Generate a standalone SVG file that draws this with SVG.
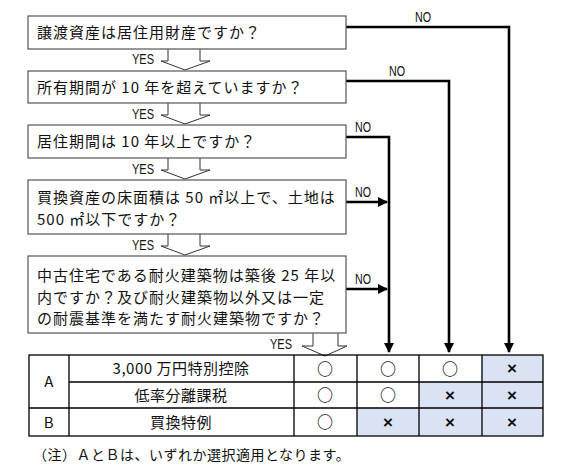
<svg xmlns="http://www.w3.org/2000/svg" width="569" height="467" viewBox="0 0 569 467">
<style>
.box{fill:#fff;stroke:#555;stroke-width:1.2}
.q{font-family:"Noto Sans CJK JP","Liberation Sans",sans-serif;font-size:15px;letter-spacing:1px;fill:#111}
.lbl{font-family:"Liberation Sans","DejaVu Sans",sans-serif;font-size:15px;fill:#111}
.yes{fill:#fff;stroke:#333;stroke-width:1}
.no{fill:none;stroke:#000;stroke-width:2.6}
.t{font-family:"Noto Sans CJK JP","Liberation Sans",sans-serif;font-size:15px;fill:#111;text-anchor:middle;letter-spacing:0.5px}
.c{font-family:"Noto Sans CJK JP","Liberation Sans",sans-serif;font-size:16px;fill:#111;text-anchor:middle;font-weight:bold}
.x{font-family:"Liberation Sans","DejaVu Sans",sans-serif;font-size:17px;fill:#111;text-anchor:middle;font-weight:bold}
.grid{fill:none;stroke:#000;stroke-width:1.3}
.sh{fill:#dae3f3}
</style>
<defs>
<marker id="ah" viewBox="0 0 10 10" refX="9" refY="5" markerWidth="4" markerHeight="4" orient="auto" markerUnits="strokeWidth">
<path d="M0,0 L10,5 L0,10 z" fill="#000"/>
</marker>
</defs>
<g id="connectors">
<path class="yes" d="M168,49 V61 H161 L185,70 L210,61 H200 V49"/>
<path class="yes" d="M168,103 V115 H161 L185,124 L210,115 H200 V103"/>
<path class="yes" d="M168,158 V170 H161 L185,179 L210,170 H200 V158"/>
<path class="yes" d="M168,234 V246 H161 L185,255 L210,246 H200 V234"/>
<path class="yes" d="M313,333 V346 H302 L325,356 L347,346 H338 V333"/>
<text class="lbl" x="132" y="64" textLength="22" lengthAdjust="spacingAndGlyphs">YES</text>
<text class="lbl" x="132" y="119" textLength="22" lengthAdjust="spacingAndGlyphs">YES</text>
<text class="lbl" x="132" y="174" textLength="22" lengthAdjust="spacingAndGlyphs">YES</text>
<text class="lbl" x="132" y="250" textLength="22" lengthAdjust="spacingAndGlyphs">YES</text>
<text class="lbl" x="270" y="349" textLength="22" lengthAdjust="spacingAndGlyphs">YES</text>
<path class="no" d="M346,27 H509 V352" marker-end="url(#ah)"/>
<path class="no" d="M346,81 H449 V352" marker-end="url(#ah)"/>
<path class="no" d="M346,137 H389 V352" marker-end="url(#ah)"/>
<path class="no" d="M346,202 H387" marker-end="url(#ah)"/>
<path class="no" d="M346,289 H387" marker-end="url(#ah)"/>
<text class="lbl" x="415" y="22" textLength="16" lengthAdjust="spacingAndGlyphs">NO</text>
<text class="lbl" x="389" y="76" textLength="16" lengthAdjust="spacingAndGlyphs">NO</text>
<text class="lbl" x="355" y="132" textLength="16" lengthAdjust="spacingAndGlyphs">NO</text>
<text class="lbl" x="355" y="197" textLength="16" lengthAdjust="spacingAndGlyphs">NO</text>
<text class="lbl" x="355" y="284" textLength="16" lengthAdjust="spacingAndGlyphs">NO</text>
</g>
<g id="q1"><rect class="box" x="28" y="16" width="318" height="33"/><text class="q" x="37" y="38">譲渡資産は居住用財産ですか？</text></g>
<g id="q2"><rect class="box" x="28" y="71" width="318" height="32"/><text class="q" x="37" y="92.5">所有期間が 10 年を超えていますか？</text></g>
<g id="q3"><rect class="box" x="28" y="125" width="318" height="33"/><text class="q" x="37" y="147">居住期間は 10 年以上ですか？</text></g>
<g id="q4"><rect class="box" x="28" y="180" width="318" height="54"/><text class="q" x="37" y="203">買換資産の床面積は 50 ㎡以上で、土地は</text><text class="q" x="37" y="225">500 ㎡以下ですか？</text></g>
<g id="q5"><rect class="box" x="28" y="256" width="318" height="77"/><text class="q" x="37" y="280.5">中古住宅である耐火建築物は築後 25 年以</text><text class="q" x="37" y="302.5">内ですか？及び耐火建築物以外又は一定</text><text class="q" x="37" y="324">の耐震基準を満たす耐火建築物ですか？</text></g>
<g id="table">
<rect class="sh" x="482" y="355" width="61" height="27"/>
<rect class="sh" x="419" y="382" width="124" height="26"/>
<rect class="sh" x="357" y="408" width="186" height="28"/>
<rect class="grid" x="29" y="355" width="514" height="81"/>
<path class="grid" d="M69,355 V436 M294,355 V436 M357,355 V436 M419,355 V436 M482,355 V436 M69,382 H543 M29,408 H543"/>
<text class="t" x="49" y="387">A</text>
<text class="t" x="49" y="428">B</text>
<text class="t" x="181" y="374">3,000 万円特別控除</text>
<text class="t" x="181" y="400.5">低率分離課税</text>
<text class="t" x="181" y="427.5">買換特例</text>
<text class="c" x="325" y="374.5">○</text><text class="c" x="388" y="374.5">○</text><text class="c" x="450" y="374.5">○</text><text class="x" x="512" y="374">×</text>
<text class="c" x="325" y="401">○</text><text class="c" x="388" y="401">○</text><text class="x" x="450" y="400.5">×</text><text class="x" x="512" y="400.5">×</text>
<text class="c" x="325" y="428">○</text><text class="x" x="388" y="427.5">×</text><text class="x" x="450" y="427.5">×</text><text class="x" x="512" y="427.5">×</text>
</g>
<g id="note"><text x="33" y="460" style="font-family:'Noto Sans CJK JP','Liberation Sans',sans-serif;font-size:14px;letter-spacing:0.5px;fill:#111">（注）ＡとＢは、いずれか選択適用となります。</text></g>
</svg>
